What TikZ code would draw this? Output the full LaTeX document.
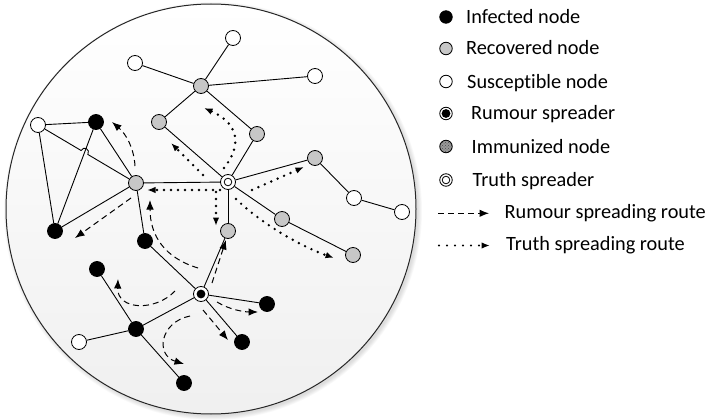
\documentclass[tikz,border=0pt]{standalone}
\usepackage{fontspec}
\setmainfont{Carlito}[Ligatures=NoCommon]
\usetikzlibrary{arrows.meta,patterns}

\begin{document}
\begin{tikzpicture}[x=1pt,y=-1pt,
  nd/.style={circle, draw=black, line width=0.8pt, minimum size=15pt, inner sep=0pt},
  inf/.style={nd, fill=black},
  rec/.style={nd, fill=black!22},
  sus/.style={nd, fill=white},
  imm/.style={nd, fill=black!40, path picture={\fill[pattern=crosshatch dots, pattern color=black!70] (path picture bounding box.south west) rectangle (path picture bounding box.north east);}},
  rsp/.style={nd, fill=white, path picture={\fill[black] (path picture bounding box.center) circle (4.4pt);}},
  tsp/.style={nd, fill=white, path picture={\draw[line width=0.8pt] (path picture bounding box.center) circle (3.8pt);}},
  small/.style={minimum size=12.5pt},
  edge/.style={line width=0.9pt, black},
  rum/.style={line width=1pt, dash pattern=on 6pt off 4pt, -{Latex[length=9.5pt,width=7.5pt]}},
  tru/.style={line width=2.7pt, line cap=round, dash pattern=on 0pt off 7pt, -{Latex[length=8.5pt,width=6.5pt]}},
  lbl/.style={anchor=base west, inner sep=0pt, font=\fontsize{20.3}{24}\selectfont}
]
\useasboundingbox (0,0) rectangle (710,420);

% soft shadow and the shaded disc
\foreach \k in {0,1,...,5}
  \fill[black, opacity=0.025] (213,211) circle ({205pt+\k*0.8pt});
\shade[top color=white, bottom color=black!6] (211,209) circle (205pt);
\draw[line width=1pt, black!85] (211,209) circle (205pt);

% nodes
\node[sus] (s1) at (233,38) {};
\node[sus] (s2) at (135,63) {};
\node[sus] (s3) at (315,76) {};
\node[rec] (r1) at (201,86) {};
\node[rec] (r2) at (159,122) {};
\node[rec] (r3) at (257,134) {};
\node[inf] (i1) at (96,122) {};
\node[sus] (s4) at (38,125) {};
\node[rec] (rc) at (136,183) {};
\node[tsp] (t) at (228,182) {};
\node[rec] (r4) at (315,158) {};
\node[sus] (s5) at (354,198) {};
\node[sus] (s6) at (402,212) {};
\node[rec] (r5) at (282,219) {};
\node[rec] (r6) at (353,255) {};
\node[rec] (r7) at (228,231) {};
\node[inf] (i2) at (55,231) {};
\node[inf] (i3) at (145,241) {};
\node[inf] (i4) at (97,269) {};
\node[rsp] (rs) at (201,294) {};
\node[inf] (i5) at (267,304) {};
\node[inf] (i6) at (136,329) {};
\node[sus] (s7) at (79,342) {};
\node[inf] (i7) at (242,342) {};
\node[inf] (i8) at (184,383) {};

% links
\draw[edge] (s1) -- (r1);
\draw[edge] (s2) -- (r1);
\draw[edge] (s3) -- (r1);
\draw[edge] (r1) -- (r2);
\draw[edge] (r1) -- (r3);
\draw[edge] (r2) -- (t);
\draw[edge] (r3) -- (t);
\draw[edge] (t) -- (r4);
\draw[edge] (r4) -- (s5);
\draw[edge] (s5) -- (s6);
\draw[edge] (t) -- (r5);
\draw[edge] (r5) -- (r6);
\draw[edge] (t) -- (r7);
\draw[edge] (t) -- (rc);
\draw[edge] (rc) -- (i1);
\draw[edge] (s4) -- (i1);
\draw[edge] (s4) -- (i2);
\draw[edge] (i1) -- (i2);
\draw[edge] (rc) -- (i2);
\draw[edge] (rc) -- (i3);
\draw[edge] (i3) -- (rs);
\draw[edge] (rs) -- (r7);
\draw[edge] (rs) -- (i5);
\draw[edge] (rs) -- (i7);
\draw[edge] (rs) -- (i6);
\draw[edge] (i6) -- (i4);
\draw[edge] (i6) -- (s7);
\draw[edge] (i6) -- (i8);
% link with a small hop over the crossing line
\coordinate (j1) at (81.1,150.5);
\coordinate (j2) at (87.9,154.5);
\draw[edge] (s4) -- (j1) .. controls (83.8,145.4) and (90.6,149.4) .. (j2) -- (rc);

% truth spreading routes
\draw[tru] (224,168) .. controls (240,148) and (242,125) .. (204,108);
\draw[tru] (203,175) -- (171,143);
\draw[tru] (220,190) -- (147,190);
\draw[tru] (216,192) -- (216,226);
\draw[tru] (252,190) -- (304,167);
\draw[tru] (236,199) .. controls (262,224) and (300,246) .. (334,258);

% rumour spreading routes
\draw[rum] (135,166) .. controls (134,148) and (126,134) .. (112,122);
\draw[rum] (131,198) -- (75,238);
\draw[rum] (198,268) .. controls (165,258) and (150,236) .. (150,200);
\draw[rum] (212,283) -- (226,240);
\draw[rum] (175,291) .. controls (155,312) and (117,310) .. (118,279);
\draw[rum] (190,316) .. controls (160,322) and (155,355) .. (184,364);
\draw[rum] (203,310) -- (228,340);
\draw[rum] (217,302) .. controls (230,310) and (245,312) .. (258,312);

% legend
\node[inf, small] (l1) at (446,17) {};
\node[rec, small] (l2) at (446,48.5) {};
\node[sus, small] (l3) at (446,81.5) {};
\node[rsp, small] (l4) at (446,113.5) {};
\node[imm, small] (l5) at (446,146.5) {};
\node[tsp, small] (l6) at (446,180) {};
\node[lbl] (t1) at (466,23.3) {Infected node};
\node[lbl] (t2) at (466,55) {Recovered node};
\node[lbl] (t3) at (467,88.3) {Susceptible node};
\node[lbl] (t4) at (471,120) {Rumour spreader};
\node[lbl] (t5) at (471.5,153.3) {Immunized node};
\node[lbl] (t6) at (472.5,186.5) {Truth spreader};
\coordinate (d1) at (438,213.3);
\coordinate (d2) at (489,213.3);
\coordinate (e1) at (439,245.5);
\coordinate (e2) at (490,245.5);
\draw[rum] (d1) -- (d2);
\draw[tru, dash pattern=on 0pt off 8pt, line width=2.2pt] (e1) -- (e2);
\node[lbl] (t7) at (504.5,218.3) {Rumour spreading route};
\node[lbl] (t8) at (506,250.7) {Truth spreading route};
\end{tikzpicture}
\end{document}
